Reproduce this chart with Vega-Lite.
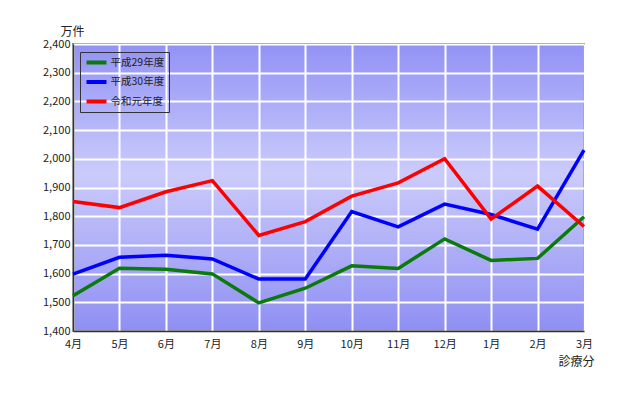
{
  "$schema": "https://vega.github.io/schema/vega-lite/v6.json",
  "width": 511,
  "height": 287,
  "autosize": {"type": "none"},
  "padding": {"left": 73, "top": 44, "right": 36, "bottom": 69},
  "background": "#ffffff",
  "data": {
    "values": [
      {"month": "4月", "series": "平成29年度", "value": 1523},
      {"month": "5月", "series": "平成29年度", "value": 1619},
      {"month": "6月", "series": "平成29年度", "value": 1615},
      {"month": "7月", "series": "平成29年度", "value": 1599},
      {"month": "8月", "series": "平成29年度", "value": 1498},
      {"month": "9月", "series": "平成29年度", "value": 1549},
      {"month": "10月", "series": "平成29年度", "value": 1627},
      {"month": "11月", "series": "平成29年度", "value": 1618},
      {"month": "12月", "series": "平成29年度", "value": 1721},
      {"month": "1月", "series": "平成29年度", "value": 1646},
      {"month": "2月", "series": "平成29年度", "value": 1653},
      {"month": "3月", "series": "平成29年度", "value": 1798},
      {"month": "4月", "series": "平成30年度", "value": 1598},
      {"month": "5月", "series": "平成30年度", "value": 1657},
      {"month": "6月", "series": "平成30年度", "value": 1664},
      {"month": "7月", "series": "平成30年度", "value": 1651},
      {"month": "8月", "series": "平成30年度", "value": 1581},
      {"month": "9月", "series": "平成30年度", "value": 1581},
      {"month": "10月", "series": "平成30年度", "value": 1816},
      {"month": "11月", "series": "平成30年度", "value": 1763},
      {"month": "12月", "series": "平成30年度", "value": 1842},
      {"month": "1月", "series": "平成30年度", "value": 1806},
      {"month": "2月", "series": "平成30年度", "value": 1755},
      {"month": "3月", "series": "平成30年度", "value": 2030},
      {"month": "4月", "series": "令和元年度", "value": 1851},
      {"month": "5月", "series": "令和元年度", "value": 1830},
      {"month": "6月", "series": "令和元年度", "value": 1885},
      {"month": "7月", "series": "令和元年度", "value": 1924},
      {"month": "8月", "series": "令和元年度", "value": 1733},
      {"month": "9月", "series": "令和元年度", "value": 1781},
      {"month": "10月", "series": "令和元年度", "value": 1870},
      {"month": "11月", "series": "令和元年度", "value": 1916},
      {"month": "12月", "series": "令和元年度", "value": 2000},
      {"month": "1月", "series": "令和元年度", "value": 1790},
      {"month": "2月", "series": "令和元年度", "value": 1905},
      {"month": "3月", "series": "令和元年度", "value": 1764}
    ]
  },
  "mark": {"type": "line", "strokeWidth": 3.5, "strokeJoin": "miter"},
  "encoding": {
    "x": {
      "field": "month",
      "type": "ordinal",
      "sort": ["4月", "5月", "6月", "7月", "8月", "9月", "10月", "11月", "12月", "1月", "2月", "3月"],
      "scale": {"type": "point", "padding": 0},
      "axis": {
        "title": "診療分",
        "titleX": 503,
        "titleY": 30,
        "titleAlign": "center",
        "titleBaseline": "middle",
        "titleFontSize": 12,
        "titleFontWeight": "normal",
        "labelAngle": 0,
        "labelPadding": 7,
        "ticks": false,
        "grid": true
      }
    },
    "y": {
      "field": "value",
      "type": "quantitative",
      "scale": {"domain": [1400, 2400], "nice": false, "zero": false},
      "axis": {
        "title": "万件",
        "titleAngle": 0,
        "titleX": -1,
        "titleY": -13,
        "titleAlign": "center",
        "titleBaseline": "middle",
        "titleFontSize": 12,
        "titleFontWeight": "normal",
        "values": [1400, 1500, 1600, 1700, 1800, 1900, 2000, 2100, 2200, 2300, 2400],
        "format": ",.0f",
        "ticks": false,
        "labelPadding": 3,
        "grid": true
      }
    },
    "color": {
      "field": "series",
      "type": "nominal",
      "sort": ["平成29年度", "平成30年度", "令和元年度"],
      "scale": {"domain": ["平成29年度", "平成30年度", "令和元年度"], "range": ["#0a7a0a", "#0000ff", "#ff0000"]},
      "legend": {
        "title": null,
        "orient": "none",
        "legendX": 7,
        "legendY": 8,
        "symbolType": "stroke",
        "symbolSize": 400,
        "symbolStrokeWidth": 4,
        "labelFontSize": 10.5,
        "labelOffset": 2,
        "clipHeight": 12,
        "rowPadding": 7.5,
        "padding": 4.5,
        "strokeColor": "#333333",
        "fillColor": null
      }
    }
  },
  "config": {
    "font": "Noto Sans CJK JP",
    "view": {
      "stroke": "#333333",
      "strokeWidth": 1.5,
      "fill": {
        "gradient": "linear",
        "x1": 0, "y1": 0, "x2": 0, "y2": 1,
        "stops": [
          {"offset": 0, "color": "#9292f6"},
          {"offset": 0.45, "color": "#cbcbfb"},
          {"offset": 1, "color": "#8f8ff3"}
        ]
      }
    },
    "axis": {
      "domainColor": "#333333",
      "domainWidth": 1.5,
      "gridColor": "#ffffff",
      "gridWidth": 2,
      "gridOpacity": 1,
      "labelFontSize": 11,
      "labelColor": "#222222",
      "titleColor": "#222222"
    },
    "legend": {"labelColor": "#222222"}
  }
}
